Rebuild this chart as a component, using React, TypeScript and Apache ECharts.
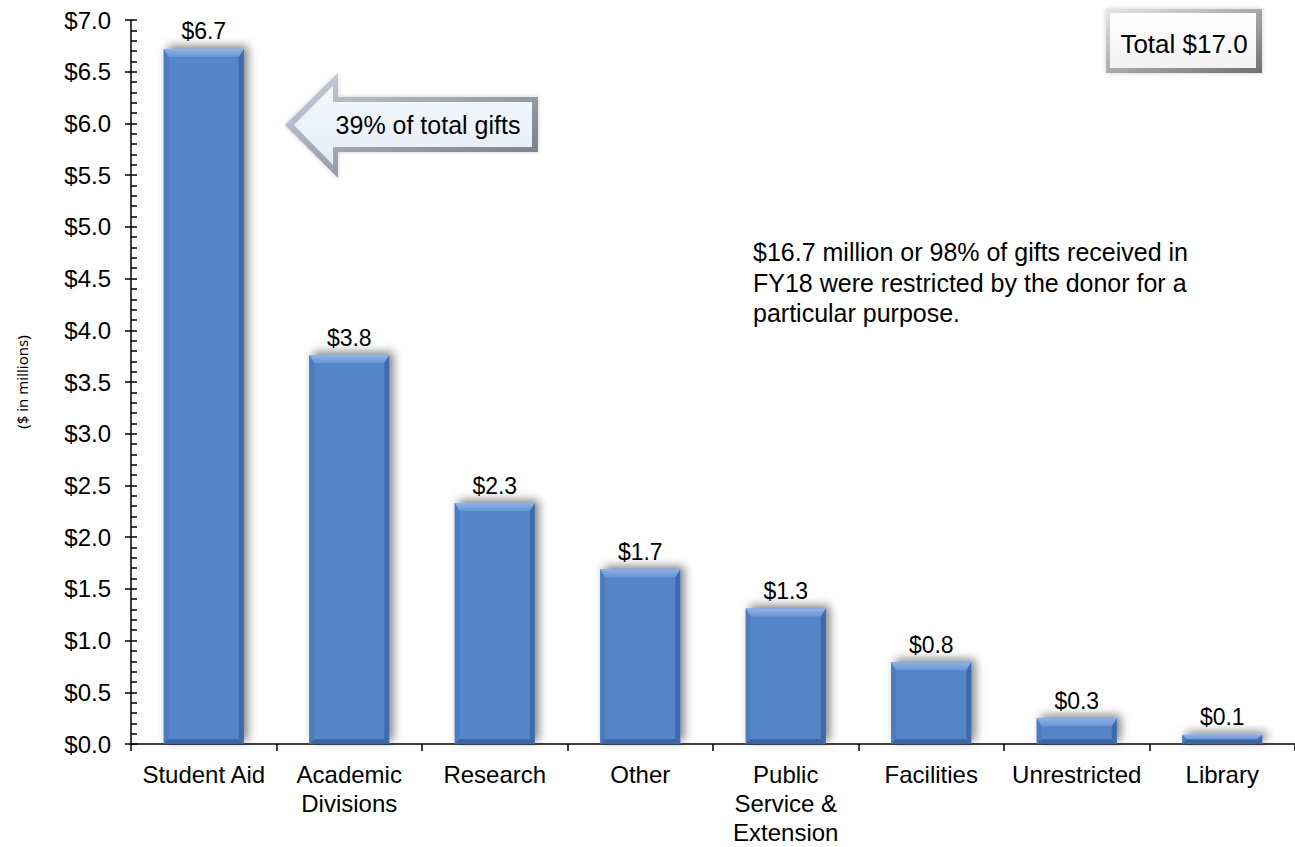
import React, { useEffect, useRef } from "react";
import * as echarts from "echarts";

const categories = [
  "Student Aid",
  "Academic\nDivisions",
  "Research",
  "Other",
  "Public\nService &\nExtension",
  "Facilities",
  "Unrestricted",
  "Library",
];
const giftValues = [6.72, 3.76, 2.33, 1.69, 1.31, 0.79, 0.25, 0.09];
const yTicks = { min: 0, max: 7, interval: 0.5 };
const totalLabel = "Total $17.0";
const arrowLabel = "39% of total gifts";
const noteText =
  "$16.7 million or 98% of gifts received in\nFY18 were restricted by the donor for a\nparticular purpose.";
const yTitle = "($ in millions)";

const FONT = "'Liberation Sans', Arial, sans-serif";
const BAR_RATIO = 0.55;

export default function App() {
  const ref = useRef<HTMLDivElement>(null);
  useEffect(() => {
    if (!ref.current) return;
    const chart = echarts.init(ref.current, null, { renderer: "svg" });
    const arrowOuter = [
      [285, 125],
      [338, 73],
      [338, 97],
      [538, 97],
      [538, 152],
      [338, 152],
      [338, 178],
    ];
    const arrowInner = [
      [294, 125],
      [333, 86],
      [333, 102],
      [532, 102],
      [532, 147],
      [333, 147],
      [333, 165],
    ];
    const bevelItem = (params: any, api: any) => {
      const top = api.coord([api.value(0), api.value(1)]);
      const base = api.coord([api.value(0), 0]);
      const w = api.size([1, 0])[0] * BAR_RATIO;
      const L = top[0] - w / 2;
      const R = top[0] + w / 2;
      const T = top[1];
      const B = base[1];
      const b = Math.min(8, (B - T) / 2);
      const bs = Math.min(5, (B - T) / 2);
      return {
        type: "group",
        children: [
          {
            type: "polygon",
            shape: { points: [[L, T], [L + bs, T + b], [L + bs, B - bs], [L, B]] },
            style: { fill: "#4c7cc0" },
          },
          {
            type: "polygon",
            shape: { points: [[R, T], [R - bs, T + b], [R - bs, B - bs], [R, B]] },
            style: { fill: "#3f6aa9" },
          },
          {
            type: "polygon",
            shape: { points: [[L, B], [L + bs, B - bs], [R - bs, B - bs], [R, B]] },
            style: { fill: "#3b66a3" },
          },
          {
            type: "polygon",
            shape: { points: [[L, T], [R, T], [R - bs, T + b], [L + bs, T + b]] },
            style: {
              fill: new echarts.graphic.LinearGradient(0, 0, 0, 1, [
                { offset: 0, color: "#8fb3e6" },
                { offset: 1, color: "#6995d3" },
              ]),
            },
          },
        ],
      };
    };
    chart.setOption({
      animation: false,
      backgroundColor: "#ffffff",
      grid: { left: 131, right: -13, top: 20, bottom: 99, containLabel: false },
      xAxis: {
        type: "category",
        data: categories,
        axisLine: { show: true, lineStyle: { color: "#000", width: 1.5 } },
        axisTick: { show: true, length: 7, interval: 0, lineStyle: { color: "#000", width: 1.5 } },
        axisLabel: {
          interval: 0,
          color: "#000",
          fontFamily: FONT,
          fontSize: 24,
          lineHeight: 29,
          margin: 16,
        },
      },
      yAxis: [
        {
          type: "value",
          min: yTicks.min,
          max: yTicks.max,
          interval: yTicks.interval,
          axisLine: { show: true, lineStyle: { color: "#000", width: 1.5 } },
          axisTick: { show: true, length: 6, lineStyle: { color: "#000", width: 1.5 } },
          splitLine: { show: false },
          axisLabel: {
            color: "#000",
            fontFamily: FONT,
            fontSize: 24,
            margin: 20,
            formatter: (v: number) => "$" + v.toFixed(1),
          },
        },
        {
          type: "value",
          position: "left",
          min: yTicks.min,
          max: yTicks.max,
          interval: yTicks.interval,
          axisLine: { show: false },
          axisTick: { show: true, inside: true, length: 6, lineStyle: { color: "#000", width: 1.5 } },
          minorTick: { show: true, splitNumber: 5, length: 6, lineStyle: { color: "#000", width: 1.5 } },
          splitLine: { show: false },
          axisLabel: { show: false },
        },
      ],
      series: [
        {
          type: "bar",
          data: giftValues,
          barCategoryGap: "45%",
          itemStyle: {
            color: "#5586ca",
            shadowColor: "rgba(0,0,0,0.5)",
            shadowBlur: 10,
            shadowOffsetX: 4,
            shadowOffsetY: -3,
          },
          label: {
            show: true,
            position: "top",
            distance: 6,
            color: "#000",
            fontFamily: FONT,
            fontSize: 23,
            formatter: (p: any) => "$" + Number(p.value).toFixed(1),
          },
          z: 2,
        },
        {
          type: "custom",
          data: giftValues.map((v, i) => [i, v]),
          encode: { x: 0, y: 1 },
          renderItem: bevelItem,
          silent: true,
          z: 3,
        },
      ],
      graphic: [
        {
          type: "text",
          x: 22,
          y: 382,
          rotation: Math.PI / 2,
          style: {
            text: yTitle,
            fill: "#000",
            font: "15px 'Noto Sans', sans-serif",
            align: "center",
            verticalAlign: "middle",
          },
        },
        {
          type: "polygon",
          shape: { points: arrowOuter },
          style: {
            fill: new echarts.graphic.LinearGradient(0, 0, 1, 1, [
              { offset: 0, color: "#c9d2de" },
              { offset: 1, color: "#6f7780" },
            ]),
            shadowColor: "rgba(0,0,0,0.2)",
            shadowBlur: 4,
          },
        },
        {
          type: "polygon",
          shape: { points: arrowInner },
          style: {
            fill: new echarts.graphic.LinearGradient(0, 0, 0, 1, [
              { offset: 0, color: "#f6f9fe" },
              { offset: 1, color: "#e3ecf8" },
            ]),
          },
        },
        {
          type: "text",
          x: 428,
          y: 125,
          style: {
            text: arrowLabel,
            fill: "#000",
            font: `25px ${FONT}`,
            align: "center",
            verticalAlign: "middle",
          },
        },
        {
          type: "rect",
          shape: { x: 1106, y: 9, width: 156, height: 64 },
          style: {
            fill: new echarts.graphic.LinearGradient(0, 0, 1, 1, [
              { offset: 0, color: "#e6e6e6" },
              { offset: 1, color: "#6e6e6e" },
            ]),
            shadowColor: "rgba(0,0,0,0.2)",
            shadowBlur: 4,
          },
        },
        {
          type: "rect",
          shape: { x: 1110, y: 13, width: 146, height: 55 },
          style: {
            fill: new echarts.graphic.LinearGradient(0, 0, 0, 1, [
              { offset: 0, color: "#ffffff" },
              { offset: 1, color: "#f2f2f2" },
            ]),
          },
        },
        {
          type: "text",
          x: 1184,
          y: 44,
          style: {
            text: totalLabel,
            fill: "#000",
            font: `26px ${FONT}`,
            align: "center",
            verticalAlign: "middle",
          },
        },
        {
          type: "text",
          x: 753,
          y: 237,
          style: {
            text: noteText,
            fill: "#000",
            font: `25px ${FONT}`,
            lineHeight: 30.5,
            align: "left",
            verticalAlign: "top",
          },
        },
      ],
    });
    return () => chart.dispose();
  }, []);
  return (
    <div
      ref={ref}
      style={{ position: "absolute", left: 0, top: 0, width: 1295, height: 847 }}
    />
  );
}
